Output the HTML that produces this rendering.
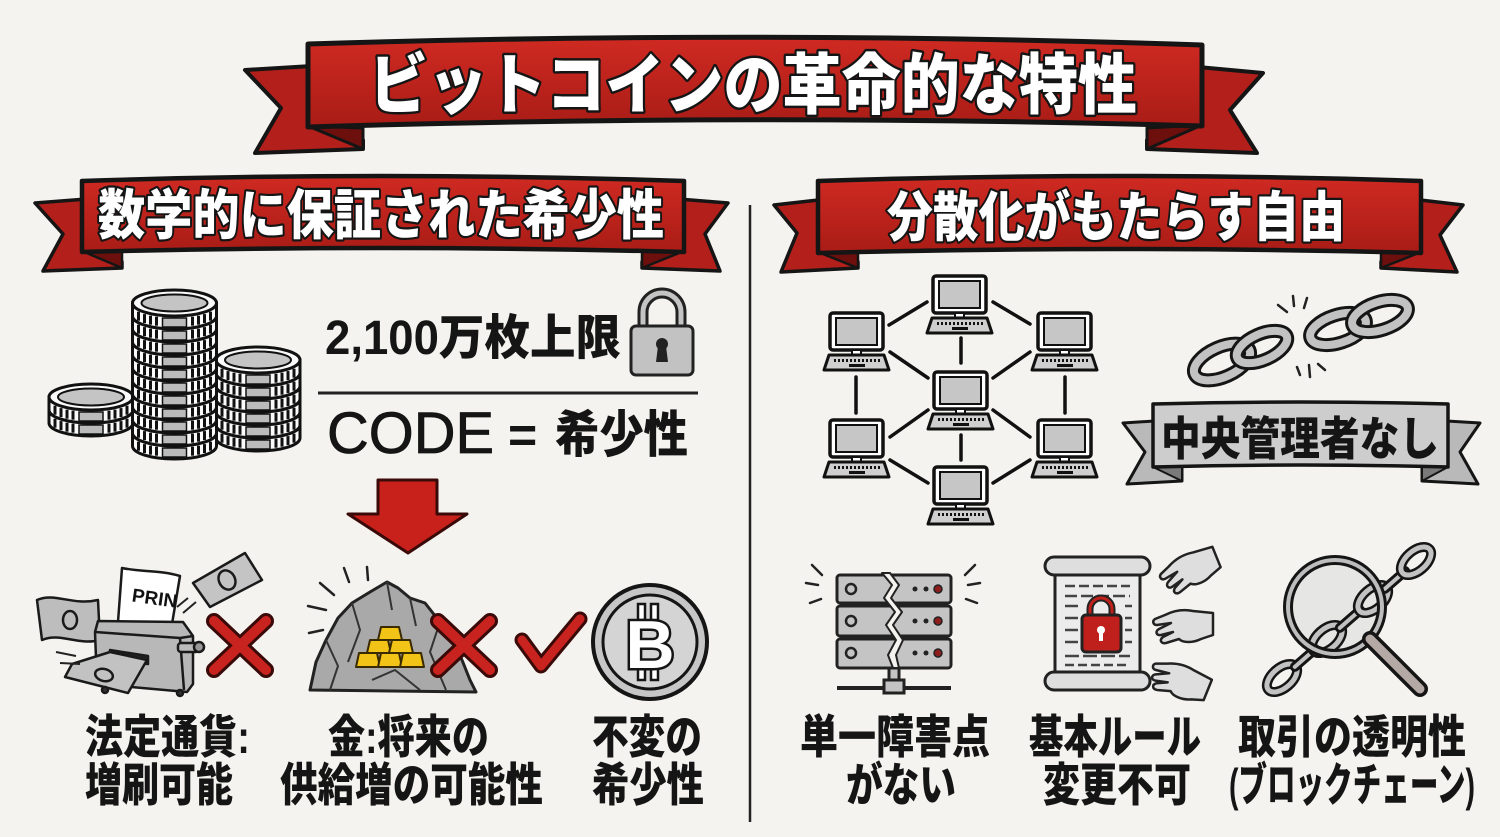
<!DOCTYPE html>
<html><head><meta charset="utf-8">
<style>
html,body{margin:0;padding:0;background:#f4f3ef;}
svg{display:block;}
.t{font-family:"Liberation Sans","Noto Sans CJK JP",sans-serif;font-weight:900;}
.wt{fill:#fff;stroke:#151515;stroke-width:5;paint-order:stroke;stroke-linejoin:round;}
.bk{fill:#151515;}
</style></head>
<body>
<svg width="1500" height="837" viewBox="0 0 1500 837" xmlns="http://www.w3.org/2000/svg">
<defs>
 <linearGradient id="rg" x1="0" y1="0" x2="0" y2="1">
  <stop offset="0" stop-color="#cf2a22"/><stop offset="1" stop-color="#a91c16"/>
 </linearGradient>
 <g id="coin">
  <path d="M-42,0 V13 A42,13 0 0 0 42,13 V0 Z" fill="#fafafa" stroke="#111" stroke-width="3"/>
  <g stroke="#111" stroke-width="3">
   <line x1="-36" y1="8.7" x2="-36" y2="17.7"/><line x1="-30" y1="11.1" x2="-30" y2="20.1"/>
   <line x1="-24" y1="12.7" x2="-24" y2="21.7"/><line x1="-18" y1="13.7" x2="-18" y2="22.7"/>
   <line x1="36" y1="8.7" x2="36" y2="17.7"/><line x1="30" y1="11.1" x2="30" y2="20.1"/>
   <line x1="24" y1="12.7" x2="24" y2="21.7"/><line x1="18" y1="13.7" x2="18" y2="22.7"/>
  </g>
  <rect x="-12" y="15" width="24" height="9" fill="#bbb" stroke="#111" stroke-width="1.5"/>
  <ellipse cx="0" cy="0" rx="42" ry="13" fill="#fafafa" stroke="#111" stroke-width="3"/>
  <ellipse cx="0" cy="0" rx="33" ry="8.5" fill="#c4c4c4" stroke="#111" stroke-width="2"/>
 </g>
 <g id="pc">
  <rect x="0" y="0" width="53" height="37" rx="3" fill="#fff" stroke="#111" stroke-width="3.5"/>
  <rect x="6" y="5" width="41" height="27" fill="#c6c6c6" stroke="#111" stroke-width="2"/>
  <rect x="22" y="37" width="9" height="5" fill="#fff" stroke="#111" stroke-width="2"/>
  <path d="M-1,42 H54 L59,57 H-6 Z" fill="#cfcfcf" stroke="#111" stroke-width="3" stroke-linejoin="round"/>
  <line x1="4" y1="47.5" x2="50" y2="47.5" stroke="#111" stroke-width="3" stroke-dasharray="2 2"/>
  <rect x="19" y="51" width="16" height="3" fill="#111"/>
 </g>
 <g id="hand">
  <path d="M60,10 L40,8 C30,6 20,8 12,12 L2,16 C-1,18 0,22 4,22 L18,20 L6,26 C2,28 3,33 8,32 L20,29 L10,34 C6,37 8,41 13,40 L26,36 C30,40 40,40 48,36 L60,32 Z" fill="#dedede" stroke="#222" stroke-width="2.5" stroke-linejoin="round"/>
 </g>
</defs>

<!-- ========== MAIN BANNER ========== -->
<polygon points="245,70 312,66 363,140 363,149 255,153 281,108" fill="#b31f1a" stroke="#151515" stroke-width="4" stroke-linejoin="round"/>
<polygon points="308,126 363,128 363,149" fill="#6d0f0d" stroke="#151515" stroke-width="3" stroke-linejoin="round"/>
<polygon points="1263,73 1198,67 1147,140 1147,149 1257,153 1230,110" fill="#b31f1a" stroke="#151515" stroke-width="4" stroke-linejoin="round"/>
<polygon points="1202,125 1147,128 1147,149" fill="#6d0f0d" stroke="#151515" stroke-width="3" stroke-linejoin="round"/>
<path d="M308,44 Q755,30 1202,45 L1202,126 Q755,113 308,127 Z" fill="url(#rg)" stroke="#151515" stroke-width="5" stroke-linejoin="round"/>
<text class="t wt" x="369" y="108" font-size="66" textLength="768" lengthAdjust="spacingAndGlyphs">ビットコインの革命的な特性</text>

<!-- ========== LEFT SECTION BANNER ========== -->
<polygon points="35,203 100,198 122,262 122,268 43,271 63,234" fill="#b31f1a" stroke="#151515" stroke-width="3.5" stroke-linejoin="round"/>
<polygon points="82,251 122,251 122,268" fill="#6d0f0d" stroke="#151515" stroke-width="2.5" stroke-linejoin="round"/>
<polygon points="728,203 666,198 642,262 642,268 720,271 705,234" fill="#b31f1a" stroke="#151515" stroke-width="3.5" stroke-linejoin="round"/>
<polygon points="684,251 642,251 642,268" fill="#6d0f0d" stroke="#151515" stroke-width="2.5" stroke-linejoin="round"/>
<path d="M82,181 Q383,171 684,181 L684,252 Q383,244 82,252 Z" fill="url(#rg)" stroke="#151515" stroke-width="4.5" stroke-linejoin="round"/>
<text class="t wt" x="98" y="234" font-size="54" textLength="566" lengthAdjust="spacingAndGlyphs" style="stroke-width:4.5">数学的に保証された希少性</text>

<!-- ========== RIGHT SECTION BANNER ========== -->
<polygon points="774,205 836,198 858,262 858,268 781,272 797,233" fill="#b31f1a" stroke="#151515" stroke-width="3.5" stroke-linejoin="round"/>
<polygon points="818,252 858,252 858,268" fill="#6d0f0d" stroke="#151515" stroke-width="2.5" stroke-linejoin="round"/>
<polygon points="1463,205 1403,198 1381,262 1381,268 1457,272 1440,235" fill="#b31f1a" stroke="#151515" stroke-width="3.5" stroke-linejoin="round"/>
<polygon points="1421,252 1381,252 1381,268" fill="#6d0f0d" stroke="#151515" stroke-width="2.5" stroke-linejoin="round"/>
<path d="M818,181 Q1120,171 1421,181 L1421,253 Q1120,245 818,253 Z" fill="url(#rg)" stroke="#151515" stroke-width="4.5" stroke-linejoin="round"/>
<text class="t wt" x="887" y="236" font-size="54" textLength="458" lengthAdjust="spacingAndGlyphs" style="stroke-width:4.5">分散化がもたらす自由</text>

<!-- divider -->
<line x1="750" y1="205" x2="750" y2="822" stroke="#222" stroke-width="2.5"/>

<!-- ========== COINS ========== -->
<use href="#coin" x="91" y="410"/><use href="#coin" x="91" y="397"/>
<use href="#coin" x="258" y="425"/><use href="#coin" x="258" y="412"/><use href="#coin" x="258" y="399"/>
<use href="#coin" x="258" y="386"/><use href="#coin" x="258" y="373"/><use href="#coin" x="258" y="360"/>
<use href="#coin" x="174.5" y="433"/><use href="#coin" x="174.5" y="420"/><use href="#coin" x="174.5" y="407"/>
<use href="#coin" x="174.5" y="394"/><use href="#coin" x="174.5" y="381"/><use href="#coin" x="174.5" y="368"/>
<use href="#coin" x="174.5" y="355"/><use href="#coin" x="174.5" y="342"/><use href="#coin" x="174.5" y="329"/>
<use href="#coin" x="174.5" y="316"/><use href="#coin" x="174.5" y="303"/>

<!-- 2,100 text + lock -->
<text class="t bk" x="325" y="354" font-size="48" textLength="296" lengthAdjust="spacingAndGlyphs">2,100万枚上限</text>
<path d="M643,330 V312 a19,19 0 0 1 38,0 V330" fill="none" stroke="#222" stroke-width="11"/>
<path d="M643,330 V312 a19,19 0 0 1 38,0 V330" fill="none" stroke="#c4c4c4" stroke-width="5"/>
<rect x="631" y="326" width="62" height="49" rx="5" fill="#c2c2c2" stroke="#222" stroke-width="3"/>
<circle cx="662" cy="344" r="6" fill="#222"/>
<path d="M658,346 L666,346 L668,362 L656,362 Z" fill="#222"/>
<line x1="318" y1="393" x2="698" y2="393" stroke="#222" stroke-width="3"/>
<text x="327" y="453" font-size="58" style="font-family:'Liberation Sans',sans-serif;font-weight:400;" fill="#151515" stroke="#151515" stroke-width="0.8" textLength="167" lengthAdjust="spacingAndGlyphs">CODE</text>
<text class="t bk" x="508" y="452" font-size="50">=</text>
<text class="t bk" x="555" y="452" font-size="50" textLength="133" lengthAdjust="spacingAndGlyphs">希少性</text>

<!-- red arrow -->
<polygon points="378,480 437,480 437,514 467,514 408,553 348,514 378,514" fill="#c8201b" stroke="#3a0a08" stroke-width="3" stroke-linejoin="round"/>

<!-- ========== PRINTER ========== -->
<g stroke="#1a1a1a" stroke-width="2.5" stroke-linejoin="round">
 <path d="M37,600 C55,592 72,606 98,600 L100,640 C78,646 60,632 42,640 Z" fill="#bdbdbd"/>
 <ellipse cx="70" cy="620" rx="7" ry="9" fill="none"/>
 <path d="M193,583 L245,553 L262,580 L210,607 Z" fill="#c4c4c4"/>
 <ellipse cx="227" cy="580" rx="8" ry="10" fill="none" transform="rotate(-28 227 580)"/>
 <path d="M122,568 C140,572 160,570 180,576 L172,624 L118,622 Z" fill="#fff"/>
 <path d="M98,621 L183,622 L193,636 L193,684 L187,692 L97,684 L95,632 Z" fill="#b8b8b8"/>
 <path d="M95,632 L180,638 L193,636" fill="none"/>
 <path d="M180,638 L184,690" fill="none"/>
 <path d="M110,650 L148,656 L148,664 L110,660 Z" fill="#222"/>
 <rect x="178" y="643" width="21" height="9" rx="3" fill="#bbb"/>
 <circle cx="199" cy="647" r="5" fill="#999"/>
 <path d="M110,652 L147,660 L128,693 L65,677 L72,664 Z" fill="#c2c2c2"/>
 <ellipse cx="104" cy="675" rx="9" ry="6" fill="none" transform="rotate(15 104 675)"/>
 <circle cx="105" cy="690" r="3" fill="#333"/><circle cx="180" cy="693" r="3" fill="#333"/>
</g>
<text x="132" y="604" font-size="19" transform="rotate(8 150 597)" style="font-family:'Liberation Sans',sans-serif;font-weight:700;" fill="#111">PRIN</text>
<g stroke="#222" stroke-width="2" fill="none">
 <path d="M177,607 L188,598"/><path d="M183,613 L196,602"/>
 <path d="M56,652 L76,656"/><path d="M60,663 L80,664"/>
</g>
<!-- X 1 -->
<g stroke-linecap="round">
 <line x1="214" y1="621" x2="266" y2="670" stroke="#3a0a08" stroke-width="16"/>
 <line x1="266" y1="621" x2="214" y2="670" stroke="#3a0a08" stroke-width="16"/>
 <line x1="214" y1="621" x2="266" y2="670" stroke="#c8231e" stroke-width="10"/>
 <line x1="266" y1="621" x2="214" y2="670" stroke="#c8231e" stroke-width="10"/>
</g>

<!-- ========== GOLD ROCK ========== -->
<g stroke="#222" stroke-width="2.5" stroke-linecap="round">
 <line x1="320" y1="583" x2="334" y2="595"/><line x1="344" y1="568" x2="349" y2="582"/>
 <line x1="367" y1="567" x2="368" y2="580"/><line x1="308" y1="606" x2="326" y2="610"/>
 <line x1="309" y1="633" x2="323" y2="630"/>
</g>
<polygon points="310,690 316,662 326,640 338,618 352,603 370,592 387,582 398,588 410,598 425,603 440,622 452,640 462,660 470,680 476,692" fill="#a9a9a9" stroke="#222" stroke-width="3" stroke-linejoin="round"/>
<g fill="none" stroke="#333" stroke-width="2">
 <path d="M352,603 L360,630 L348,662"/><path d="M410,598 L416,626"/>
 <path d="M440,622 L430,652 L446,690"/><path d="M326,640 L338,666 L330,690"/>
 <path d="M387,582 L392,610"/><path d="M372,680 L395,670 L420,690"/>
</g>
<g fill="#f2c418" stroke="#3a2a00" stroke-width="2" stroke-linejoin="round">
 <path d="M381,627 L399,627 L402,640 L378,640 Z"/>
 <path d="M370,640 L388,640 L391,653 L367,653 Z"/><path d="M392,640 L410,640 L413,653 L389,653 Z"/>
 <path d="M359,653 L377,653 L380,667 L356,667 Z"/><path d="M381,653 L399,653 L402,667 L378,667 Z"/><path d="M403,653 L421,653 L424,667 L400,667 Z"/>
</g>
<!-- X 2 -->
<g stroke-linecap="round">
 <line x1="438" y1="621" x2="490" y2="670" stroke="#3a0a08" stroke-width="16"/>
 <line x1="490" y1="621" x2="438" y2="670" stroke="#3a0a08" stroke-width="16"/>
 <line x1="438" y1="621" x2="490" y2="670" stroke="#c8231e" stroke-width="10"/>
 <line x1="490" y1="621" x2="438" y2="670" stroke="#c8231e" stroke-width="10"/>
</g>
<!-- check -->
<polyline points="522,640 541,666 580,619" fill="none" stroke="#3a0a08" stroke-width="15" stroke-linecap="round" stroke-linejoin="round"/>
<polyline points="522,640 541,666 580,619" fill="none" stroke="#c8231e" stroke-width="9" stroke-linecap="round" stroke-linejoin="round"/>
<!-- bitcoin -->
<circle cx="650" cy="642" r="57" fill="#c6c6c6" stroke="#151515" stroke-width="4"/>
<circle cx="650" cy="642" r="47" fill="#d4d4d4" stroke="#151515" stroke-width="3"/>
<g fill="#fff" stroke="#151515" stroke-width="2.5">
 <rect x="638" y="604" width="7" height="16"/><rect x="651" y="604" width="7" height="16"/>
 <rect x="638" y="664" width="7" height="16"/><rect x="651" y="664" width="7" height="16"/>
</g>
<text x="650" y="668" font-size="68" text-anchor="middle" style="font-family:'Liberation Sans',sans-serif;font-weight:700;" fill="#fff" stroke="#151515" stroke-width="5" paint-order="stroke">B</text>

<!-- left labels -->
<text class="t bk" x="85" y="753" font-size="46" textLength="165" lengthAdjust="spacingAndGlyphs">法定通貨:</text>
<text class="t bk" x="85" y="801" font-size="46" textLength="148" lengthAdjust="spacingAndGlyphs">増刷可能</text>
<text class="t bk" x="328" y="753" font-size="46" textLength="161" lengthAdjust="spacingAndGlyphs">金:将来の</text>
<text class="t bk" x="280" y="801" font-size="46" textLength="263" lengthAdjust="spacingAndGlyphs">供給増の可能性</text>
<text class="t bk" x="592" y="753" font-size="46" textLength="110" lengthAdjust="spacingAndGlyphs">不変の</text>
<text class="t bk" x="592" y="801" font-size="46" textLength="112" lengthAdjust="spacingAndGlyphs">希少性</text>

<!-- ========== NETWORK ========== -->
<g stroke="#111" stroke-width="3.5" stroke-linecap="round">
 <line x1="889" y1="325" x2="927" y2="302"/><line x1="993" y1="302" x2="1030" y2="324"/>
 <line x1="961" y1="338" x2="961" y2="363"/>
 <line x1="890" y1="352" x2="928" y2="378"/><line x1="1030" y1="352" x2="993" y2="378"/>
 <line x1="856" y1="377" x2="856" y2="413"/><line x1="1065" y1="377" x2="1065" y2="413"/>
 <line x1="928" y1="410" x2="890" y2="437"/><line x1="993" y1="410" x2="1030" y2="437"/>
 <line x1="961" y1="435" x2="961" y2="460"/>
 <line x1="890" y1="460" x2="928" y2="483"/><line x1="1030" y1="460" x2="993" y2="483"/>
</g>
<use href="#pc" x="933" y="276"/><use href="#pc" x="830" y="313"/><use href="#pc" x="1038" y="313"/>
<use href="#pc" x="934" y="372"/><use href="#pc" x="830" y="420"/><use href="#pc" x="1038" y="420"/>
<use href="#pc" x="934" y="467"/>

<!-- broken chain -->
<g fill="none">
 <ellipse cx="1222" cy="362" rx="30" ry="15" transform="rotate(-24 1222 362)" stroke="#151515" stroke-width="14"/>
 <ellipse cx="1222" cy="362" rx="30" ry="15" transform="rotate(-24 1222 362)" stroke="#c2c2c2" stroke-width="8"/>
 <ellipse cx="1262" cy="347" rx="27" ry="13" transform="rotate(-24 1262 347)" stroke="#151515" stroke-width="14"/>
 <ellipse cx="1262" cy="347" rx="27" ry="13" transform="rotate(-24 1262 347)" stroke="#c2c2c2" stroke-width="8"/>
 <ellipse cx="1338" cy="329" rx="29" ry="14" transform="rotate(-18 1338 329)" stroke="#151515" stroke-width="14"/>
 <ellipse cx="1338" cy="329" rx="29" ry="14" transform="rotate(-18 1338 329)" stroke="#c2c2c2" stroke-width="8"/>
 <ellipse cx="1380" cy="316" rx="29" ry="14" transform="rotate(-18 1380 316)" stroke="#151515" stroke-width="14"/>
 <ellipse cx="1380" cy="316" rx="29" ry="14" transform="rotate(-18 1380 316)" stroke="#c2c2c2" stroke-width="8"/>
</g>
<g stroke="#222" stroke-width="2.5" stroke-linecap="round">
 <line x1="1278" y1="305" x2="1287" y2="312"/><line x1="1293" y1="296" x2="1294" y2="306"/>
 <line x1="1307" y1="298" x2="1304" y2="308"/><line x1="1297" y1="367" x2="1300" y2="375"/>
 <line x1="1309" y1="365" x2="1310" y2="377"/><line x1="1318" y1="364" x2="1325" y2="370"/>
</g>

<!-- grey ribbon -->
<polygon points="1123,423 1170,420 1182,467 1182,481 1127,484 1145,452" fill="#b9b9b9" stroke="#151515" stroke-width="3" stroke-linejoin="round"/>
<polygon points="1153,467 1182,467 1182,481" fill="#7a7a7a" stroke="#151515" stroke-width="2" stroke-linejoin="round"/>
<polygon points="1480,423 1430,420 1422,467 1422,481 1478,484 1460,452" fill="#b9b9b9" stroke="#151515" stroke-width="3" stroke-linejoin="round"/>
<polygon points="1448,467 1422,467 1422,481" fill="#7a7a7a" stroke="#151515" stroke-width="2" stroke-linejoin="round"/>
<path d="M1153,404 Q1300,400 1448,404 L1448,467 Q1300,463 1153,467 Z" fill="#cdcdcd" stroke="#151515" stroke-width="3.5" stroke-linejoin="round"/>
<text class="t bk" x="1161" y="455" font-size="46" textLength="278" lengthAdjust="spacingAndGlyphs">中央管理者なし</text>

<!-- ========== SERVER ========== -->
<g stroke="#222" stroke-width="2.5" stroke-linecap="round">
 <line x1="812" y1="565" x2="822" y2="575"/><line x1="806" y1="583" x2="818" y2="585"/><line x1="810" y1="603" x2="821" y2="599"/>
 <line x1="975" y1="565" x2="965" y2="575"/><line x1="980" y1="583" x2="968" y2="585"/><line x1="977" y1="603" x2="966" y2="599"/>
</g>
<g stroke="#222" stroke-width="3">
 <rect x="837" y="575" width="114" height="28" rx="3" fill="#c4c4c4"/>
 <rect x="837" y="606" width="114" height="30" rx="3" fill="#c4c4c4"/>
 <rect x="837" y="639" width="114" height="29" rx="3" fill="#c4c4c4"/>
 <line x1="837" y1="688" x2="951" y2="688" stroke-width="4"/>
 <rect x="889" y="668" width="10" height="14" fill="#c4c4c4"/>
 <rect x="884" y="680" width="20" height="13" fill="#c4c4c4"/>
</g>
<g fill="none" stroke="#222" stroke-width="2.5">
 <circle cx="851" cy="589" r="5"/><circle cx="851" cy="621" r="5"/><circle cx="851" cy="653" r="5"/>
</g>
<g fill="#222">
 <circle cx="915" cy="589" r="2.5"/><circle cx="926" cy="589" r="2.5"/>
 <circle cx="915" cy="621" r="2.5"/><circle cx="926" cy="621" r="2.5"/>
 <circle cx="915" cy="653" r="2.5"/><circle cx="926" cy="653" r="2.5"/>
</g>
<g fill="#8e1d1d" stroke="#222" stroke-width="1.5">
 <circle cx="938" cy="589" r="4"/><circle cx="938" cy="621" r="4"/><circle cx="938" cy="653" r="4"/>
</g>
<path d="M882,573 L892,585 L884,598 L895,612 L886,625 L896,640 L888,655 L893,668 L899,668 L896,655 L903,640 L893,625 L902,612 L891,598 L899,585 L890,573 Z" fill="#f4f3ef" stroke="#222" stroke-width="2" stroke-linejoin="round"/>

<!-- ========== SCROLL ========== -->
<rect x="1055" y="566" width="85" height="114" fill="#ececec" stroke="#222" stroke-width="3"/>
<rect x="1045" y="557" width="105" height="18" rx="9" fill="#dedede" stroke="#222" stroke-width="3"/>
<rect x="1045" y="672" width="105" height="18" rx="9" fill="#dedede" stroke="#222" stroke-width="3"/>
<g stroke="#444" stroke-width="2.5">
 <line x1="1065" y1="586" x2="1130" y2="586" stroke-dasharray="10 4"/>
 <line x1="1065" y1="596" x2="1130" y2="596" stroke-dasharray="12 4"/>
 <line x1="1065" y1="606" x2="1078" y2="606"/><line x1="1125" y1="606" x2="1132" y2="606"/>
 <line x1="1065" y1="618" x2="1078" y2="618"/><line x1="1125" y1="618" x2="1132" y2="618"/>
 <line x1="1065" y1="630" x2="1078" y2="630"/><line x1="1125" y1="630" x2="1132" y2="630"/>
 <line x1="1065" y1="642" x2="1078" y2="642"/><line x1="1125" y1="642" x2="1132" y2="642"/>
 <line x1="1065" y1="656" x2="1130" y2="656" stroke-dasharray="14 4"/>
 <line x1="1065" y1="665" x2="1130" y2="665" stroke-dasharray="9 4"/>
</g>
<path d="M1090,617 V609 a11,11 0 0 1 22,0 V617" fill="none" stroke="#222" stroke-width="7"/>
<path d="M1090,617 V609 a11,11 0 0 1 22,0 V617" fill="none" stroke="#c0201b" stroke-width="3"/>
<rect x="1082" y="615" width="39" height="37" rx="4" fill="#c0201b" stroke="#222" stroke-width="3"/>
<circle cx="1101" cy="630" r="4" fill="#fff"/><rect x="1099" y="631" width="4" height="10" fill="#fff"/>
<use href="#hand" transform="translate(1153,560) rotate(-22)"/>
<use href="#hand" transform="translate(1153,603)"/>
<use href="#hand" transform="translate(1160,648) rotate(22)"/>

<!-- ========== MAGNIFIER ========== -->
<circle cx="1335" cy="607" r="47" fill="#e6e6e4"/>
<g fill="none">
 <g transform="translate(1282,678) rotate(-41)"><ellipse rx="18" ry="10" stroke="#151515" stroke-width="10"/><ellipse rx="18" ry="10" stroke="#c2c2c2" stroke-width="5"/></g>
 <g transform="translate(1305,658) rotate(-41)"><rect x="-17" y="-3.5" width="34" height="7" rx="3.5" fill="#c2c2c2" stroke="#151515" stroke-width="3"/></g>
 <g transform="translate(1327,639) rotate(-41)"><ellipse rx="18" ry="10" stroke="#151515" stroke-width="10"/><ellipse rx="18" ry="10" stroke="#c2c2c2" stroke-width="5"/></g>
 <g transform="translate(1350,619) rotate(-41)"><rect x="-17" y="-3.5" width="34" height="7" rx="3.5" fill="#c2c2c2" stroke="#151515" stroke-width="3"/></g>
 <g transform="translate(1373,599) rotate(-41)"><ellipse rx="18" ry="10" stroke="#151515" stroke-width="10"/><ellipse rx="18" ry="10" stroke="#c2c2c2" stroke-width="5"/></g>
 <g transform="translate(1395,580) rotate(-41)"><rect x="-17" y="-3.5" width="34" height="7" rx="3.5" fill="#c2c2c2" stroke="#151515" stroke-width="3"/></g>
 <g transform="translate(1416,561) rotate(-41)"><ellipse rx="18" ry="10" stroke="#151515" stroke-width="10"/><ellipse rx="18" ry="10" stroke="#c2c2c2" stroke-width="5"/></g>
</g>
<circle cx="1335" cy="607" r="47" fill="none" stroke="#151515" stroke-width="10"/>
<circle cx="1335" cy="607" r="47" fill="none" stroke="#bdbdbd" stroke-width="4"/>
<line x1="1370" y1="639" x2="1420" y2="689" stroke="#151515" stroke-width="16" stroke-linecap="round"/>
<line x1="1370" y1="639" x2="1420" y2="689" stroke="#b5a9a5" stroke-width="9" stroke-linecap="round"/>

<!-- right labels -->
<text class="t bk" x="800" y="753" font-size="46" textLength="190" lengthAdjust="spacingAndGlyphs">単一障害点</text>
<text class="t bk" x="846" y="801" font-size="46" textLength="110" lengthAdjust="spacingAndGlyphs">がない</text>
<text class="t bk" x="1029" y="753" font-size="46" textLength="172" lengthAdjust="spacingAndGlyphs">基本ルール</text>
<text class="t bk" x="1043" y="801" font-size="46" textLength="148" lengthAdjust="spacingAndGlyphs">変更不可</text>
<text class="t bk" x="1238" y="753" font-size="46" textLength="228" lengthAdjust="spacingAndGlyphs">取引の透明性</text>
<text class="t bk" x="1229" y="801" font-size="46" textLength="246" lengthAdjust="spacingAndGlyphs">(ブロックチェーン)</text>
</svg>
</body></html>
